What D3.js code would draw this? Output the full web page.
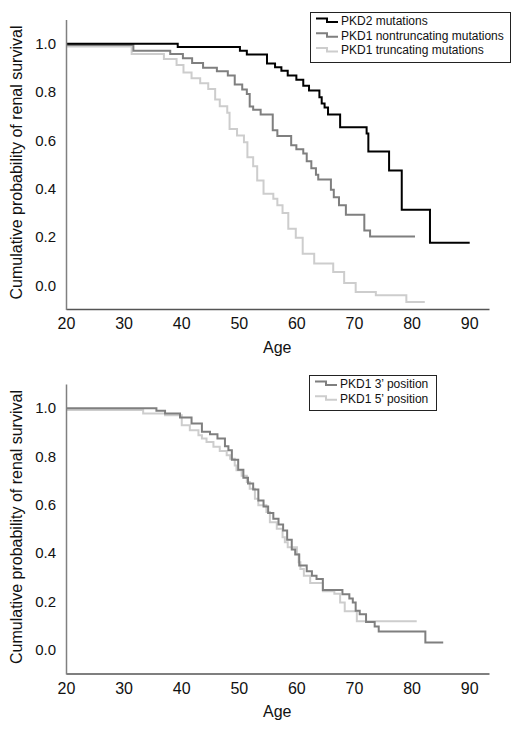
<!DOCTYPE html>
<html>
<head>
<meta charset="utf-8">
<script src="https://cdn.jsdelivr.net/npm/d3@7"></script>
<style>
  body { margin: 0; background: #fff; }
  svg { display: block; font-family: "Liberation Sans", Arial, sans-serif; }
</style>
</head>
<body>
<svg id="chart" width="520" height="730"></svg>
<script>
// tick labels
const xTicks = [20, 30, 40, 50, 60, 70, 80, 90];
const yTicks = [0.0, 0.2, 0.4, 0.6, 0.8, 1.0];

// top panel: survival by mutation type (age at each step, survival after it)
const pkd2Age  = [20, 39.4, 50.2, 51.4, 54.9, 56.3, 57.4, 58.5, 60.0, 61.2, 62.2, 64.0, 64.4, 64.9, 65.5, 67.6, 72.2, 72.5, 76.1, 78.3, 83.2, 90.1];
const pkd2Surv = [1.0, 0.986, 0.971, 0.955, 0.918, 0.902, 0.888, 0.868, 0.851, 0.826, 0.806, 0.778, 0.752, 0.736, 0.707, 0.654, 0.628, 0.554, 0.475, 0.313, 0.176, 0.176];

const nonTruncAge  = [20, 31.7, 38.1, 40.3, 41.9, 43.8, 46.2, 48.1, 49.3, 50.6, 51.4, 51.9, 52.5, 53.8, 55.9, 56.7, 59.1, 60.0, 61.2, 61.8, 62.6, 63.4, 63.8, 66.0, 66.5, 67.4, 68.6, 71.8, 72.8, 80.6];
const nonTruncSurv = [0.994, 0.971, 0.957, 0.940, 0.920, 0.900, 0.886, 0.868, 0.831, 0.810, 0.792, 0.740, 0.727, 0.707, 0.642, 0.618, 0.580, 0.563, 0.546, 0.513, 0.484, 0.458, 0.438, 0.396, 0.365, 0.331, 0.292, 0.227, 0.202, 0.202];

const truncAge  = [20, 31.4, 37.0, 39.2, 40.4, 41.8, 43.3, 44.7, 45.9, 46.7, 48.0, 48.4, 49.7, 50.9, 51.5, 52.5, 53.2, 54.3, 56.0, 56.7, 57.6, 58.6, 59.9, 61.1, 63.1, 66.4, 68.3, 70.3, 73.8, 79.1, 82.3];
const truncSurv = [0.988, 0.957, 0.937, 0.912, 0.881, 0.857, 0.836, 0.812, 0.769, 0.741, 0.714, 0.647, 0.620, 0.592, 0.530, 0.493, 0.434, 0.379, 0.358, 0.331, 0.299, 0.234, 0.197, 0.131, 0.090, 0.055, 0.010, -0.028, -0.041, -0.069, -0.069];

// bottom panel: survival by PKD1 mutation position
const pos3Age  = [20, 35.7, 37.2, 39.8, 41.8, 43.6, 45.0, 46.3, 47.6, 48.2, 48.8, 49.9, 50.8, 51.6, 52.5, 53.4, 54.3, 55.1, 56.0, 56.9, 57.7, 58.4, 59.2, 59.8, 60.5, 61.8, 62.7, 63.5, 64.6, 68.0, 69.2, 69.8, 70.3, 71.0, 72.1, 73.6, 74.3, 82.4, 85.5];
const pos3Surv = [1.0, 0.989, 0.978, 0.961, 0.937, 0.902, 0.892, 0.874, 0.842, 0.826, 0.787, 0.745, 0.712, 0.688, 0.663, 0.618, 0.593, 0.566, 0.542, 0.519, 0.494, 0.456, 0.415, 0.395, 0.349, 0.325, 0.307, 0.293, 0.248, 0.230, 0.212, 0.196, 0.162, 0.147, 0.115, 0.097, 0.076, 0.030, 0.030];

const pos5Age  = [20, 33.4, 37.2, 40.1, 41.5, 43.0, 43.6, 44.4, 45.6, 46.7, 47.9, 48.5, 49.3, 49.6, 50.5, 51.4, 51.9, 52.8, 53.4, 54.8, 55.4, 56.6, 57.6, 58.0, 58.5, 60.1, 60.4, 60.7, 61.3, 62.4, 64.6, 66.6, 67.6, 68.4, 70.5, 80.9];
const pos5Surv = [0.992, 0.978, 0.971, 0.929, 0.909, 0.888, 0.874, 0.860, 0.840, 0.823, 0.805, 0.791, 0.763, 0.743, 0.720, 0.694, 0.667, 0.625, 0.598, 0.570, 0.528, 0.501, 0.466, 0.445, 0.424, 0.397, 0.362, 0.335, 0.307, 0.277, 0.242, 0.232, 0.196, 0.160, 0.118, 0.118];

const zip = (a, b) => a.map((d, i) => [d, b[i]]);

const svg = d3.select("#chart");

const x = d3.scaleLinear()
  .domain([20, 93.45])
  .range([66, 489]);

const drawPanel = (top, series, legend) => {
  // top = pixel y of the plot's upper edge
  let y = d3.scaleLinear()
    .domain([-0.1, 1.1])
    .range([top + 290, top]);

  let g = svg.append("g");

  // curves, drawn lightest first so the darker ones sit on top
  let line = d3.line()
    .curve(d3.curveStepAfter)
    .x(d => x(d[0]))
    .y(d => y(d[1]));

  series.forEach(s => {
    g.append("path")
      .datum(s.data)
      .attr("fill", "none")
      .attr("stroke", s.color)
      .attr("stroke-width", 2)
      .attr("d", line);
  });

  // x axis
  let xAxis = g.append("g")
    .attr("transform", "translate(0," + (top + 289.5) + ")")
    .call(d3.axisBottom(x).tickValues(xTicks).tickSize(0).tickPadding(9).tickFormat(d3.format("d")));
  xAxis.select(".domain").attr("stroke", "#555").attr("stroke-width", 1.5);
  xAxis.selectAll("text").attr("font-size", 16).attr("fill", "#111").attr("font-family", null);

  // y axis
  let yAxis = g.append("g")
    .attr("transform", "translate(66,0)")
    .call(d3.axisLeft(y).tickValues(yTicks).tickSize(0).tickPadding(10).tickFormat(d3.format(".1f")));
  yAxis.select(".domain").attr("stroke", "#808080").attr("stroke-width", 1.5);
  yAxis.selectAll("text").attr("font-size", 15).attr("fill", "#111").attr("font-family", null);

  // axis titles
  g.append("text")
    .attr("x", 263)
    .attr("y", top + 333)
    .attr("font-size", 16)
    .attr("fill", "#111")
    .text("Age");

  g.append("text")
    .attr("transform", "translate(22," + (top + 143) + ") rotate(-90)")
    .attr("text-anchor", "middle")
    .attr("font-size", 16)
    .attr("fill", "#111")
    .text("Cumulative probability of renal survival");

  // legend
  let lg = g.append("g");
  lg.append("rect")
    .attr("x", legend.x + 0.5)
    .attr("y", legend.y + 0.5)
    .attr("width", legend.w)
    .attr("height", legend.h)
    .attr("fill", "#fff")
    .attr("stroke", "#222")
    .attr("stroke-width", 1);

  legend.items.forEach((it, i) => {
    let base = legend.y + 13 + i * 14.7;
    lg.append("path")
      .attr("d", "M" + (legend.x + 6) + "," + (base - 6.5) + "H" + (legend.x + 17) +
                 "V" + (base - 3) + "H" + (legend.x + 28))
      .attr("fill", "none")
      .attr("stroke", it.color)
      .attr("stroke-width", 2);
    lg.append("text")
      .attr("x", legend.x + 31)
      .attr("y", base)
      .attr("font-size", 12)
      .attr("fill", "#111")
      .text(it.label);
  });
}

const black = "#000", mid = "#7f7f7f", light = "#cdcdcd";

drawPanel(19.5,
  [
    {data: zip(truncAge, truncSurv), color: light},
    {data: zip(nonTruncAge, nonTruncSurv), color: mid},
    {data: zip(pkd2Age, pkd2Surv), color: black}
  ],
  {x: 310, y: 12, w: 200, h: 50, items: [
    {label: "PKD2 mutations", color: black},
    {label: "PKD1 nontruncating mutations", color: mid},
    {label: "PKD1 truncating mutations", color: light}
  ]}
);

drawPanel(384,
  [
    {data: zip(pos5Age, pos5Surv), color: light},
    {data: zip(pos3Age, pos3Surv), color: mid}
  ],
  {x: 309, y: 375, w: 127, h: 35, items: [
    {label: "PKD1 3’ position", color: mid},
    {label: "PKD1 5’ position", color: light}
  ]}
);
</script>
</body>
</html>
